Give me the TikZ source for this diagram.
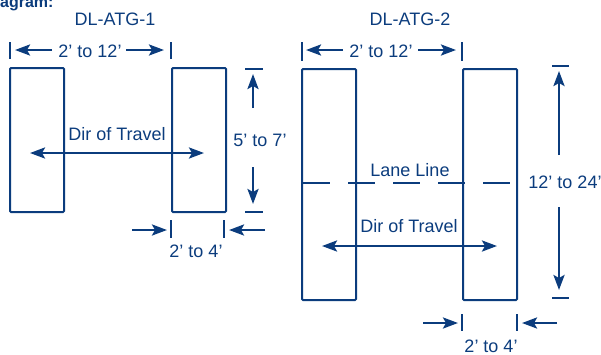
\documentclass[tikz,border=0pt]{standalone}
\usepackage{fontspec}
\setmainfont{Liberation Sans}
\usetikzlibrary{arrows.meta}
\definecolor{navy}{HTML}{0B3C7D}
\begin{document}
\begin{tikzpicture}[x=1pt,y=-1pt,
  lbl/.style={text=navy,font=\fontsize{18}{20}\selectfont,inner sep=0pt,anchor=base},
  pad/.style={draw=navy,line width=2pt,rounded corners=1pt,inner sep=0pt,minimum width=54pt},
  dimarrow/.style={draw=navy,line width=2.6pt,-{Stealth[length=15pt,width=11pt,inset=3pt]}},
  twoarrow/.style={draw=navy,line width=2.6pt,{Stealth[length=15pt,width=11pt,inset=3pt]}-{Stealth[length=15pt,width=11pt,inset=3pt]}},
  tick/.style={draw=navy,line width=2pt},
  lane/.style={draw=navy,line width=2.2pt,dash pattern=on 27pt off 18pt}
]
\useasboundingbox (0,0) rectangle (601,354);

% heading fragment
\node[text=navy,font=\fontsize{16}{18}\selectfont\bfseries,inner sep=0pt,anchor=base west] (head) at (0,7) {agram:};

% ---------- DL-ATG-1 ----------
\node[lbl] (t1) at (115,25) {DL-ATG-1};
\node[pad,minimum height=144pt] (L1) at (37,140) {};
\node[pad,minimum height=144pt] (R1) at (199,140) {};

% top dimension
\coordinate (a1) at (10,42); \coordinate (a2) at (10,59);
\coordinate (b1) at (171,42); \coordinate (b2) at (171,59);
\draw[tick] (a1) -- (a2);
\draw[tick] (b1) -- (b2);
\node[lbl] (w1) at (90,57) {2’ to 12’};
\coordinate (w1l) at (52,50); \coordinate (w1lt) at (15,50);
\coordinate (w1r) at (126,50); \coordinate (w1rt) at (164,50);
\draw[dimarrow] (w1l) -- (w1lt);
\draw[dimarrow] (w1r) -- (w1rt);

% vertical dimension
\coordinate (v1a) at (245,69); \coordinate (v1b) at (263,69);
\coordinate (v1c) at (245,212); \coordinate (v1d) at (263,212);
\draw[tick] (v1a) -- (v1b);
\draw[tick] (v1c) -- (v1d);
\coordinate (v1u) at (253,108); \coordinate (v1ut) at (253,74);
\coordinate (v1w) at (253,167); \coordinate (v1wt) at (253,204);
\draw[dimarrow] (v1u) -- (v1ut);
\draw[dimarrow] (v1w) -- (v1wt);
\node[lbl] (h1) at (260,146) {5’ to 7’};

% direction of travel
\node[lbl] (d1) at (117,140) {Dir of Travel};
\coordinate (d1l) at (30,153); \coordinate (d1r) at (204,153);
\draw[twoarrow] (d1l) -- (d1r);

% bottom dimension
\coordinate (c1) at (171,220); \coordinate (c2) at (171,238);
\coordinate (e1) at (224,220); \coordinate (e2) at (224,238);
\draw[tick] (c1) -- (c2);
\draw[tick] (e1) -- (e2);
\coordinate (p1l) at (132,230); \coordinate (p1lt) at (167,230);
\coordinate (p1r) at (265,230); \coordinate (p1rt) at (229,230);
\draw[dimarrow] (p1l) -- (p1lt);
\draw[dimarrow] (p1r) -- (p1rt);
\node[lbl] (s1) at (196,257) {2’ to 4’};

% ---------- DL-ATG-2 ----------
\node[lbl] (t2) at (410,25) {DL-ATG-2};
\node[pad,minimum height=231pt] (L2) at (329,184.5) {};
\node[pad,minimum height=231pt] (R2) at (490,184.5) {};

% top dimension
\coordinate (f1) at (302,42); \coordinate (f2) at (302,61);
\coordinate (g1) at (462,42); \coordinate (g2) at (462,61);
\draw[tick] (f1) -- (f2);
\draw[tick] (g1) -- (g2);
\node[lbl] (w2) at (381,57) {2’ to 12’};
\coordinate (w2l) at (343,50); \coordinate (w2lt) at (306,50);
\coordinate (w2r) at (418,50); \coordinate (w2rt) at (456,50);
\draw[dimarrow] (w2l) -- (w2lt);
\draw[dimarrow] (w2r) -- (w2rt);

% vertical dimension
\coordinate (v2a) at (552,66); \coordinate (v2b) at (569,66);
\coordinate (v2c) at (552,298); \coordinate (v2d) at (569,298);
\draw[tick] (v2a) -- (v2b);
\draw[tick] (v2c) -- (v2d);
\coordinate (v2u) at (559,155); \coordinate (v2ut) at (559,71);
\coordinate (v2w) at (559,207); \coordinate (v2wt) at (559,290);
\draw[dimarrow] (v2u) -- (v2ut);
\draw[dimarrow] (v2w) -- (v2wt);
\node[lbl] (h2) at (565,188) {12’ to 24’};

% lane line
\node[lbl] (ll) at (410,176) {Lane Line};
\coordinate (lla) at (303,183); \coordinate (llb) at (510,183);
\draw[lane] (lla) -- (llb);

% direction of travel
\node[lbl] (d2) at (409,232) {Dir of Travel};
\coordinate (d2l) at (322,246); \coordinate (d2r) at (497,246);
\draw[twoarrow] (d2l) -- (d2r);

% bottom dimension
\coordinate (k1) at (462,314); \coordinate (k2) at (462,331);
\coordinate (m1) at (517,314); \coordinate (m2) at (517,331);
\draw[tick] (k1) -- (k2);
\draw[tick] (m1) -- (m2);
\coordinate (p2l) at (423,323); \coordinate (p2lt) at (458,323);
\coordinate (p2r) at (557,323); \coordinate (p2rt) at (522,323);
\draw[dimarrow] (p2l) -- (p2lt);
\draw[dimarrow] (p2r) -- (p2rt);
\node[lbl] (s2) at (491,352) {2’ to 4’};
\end{tikzpicture}
\end{document}
